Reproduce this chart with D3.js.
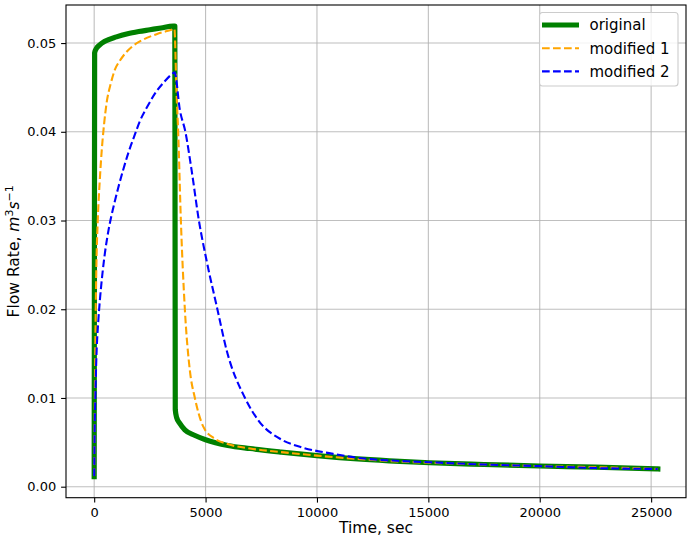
<!DOCTYPE html>
<html>
<head>
<meta charset="utf-8">
<script src="https://cdn.jsdelivr.net/npm/d3@7"></script>
<style>
  body { margin: 0; background: #fff; }
  svg { display: block; font-family: "DejaVu Sans", sans-serif; }
</style>
</head>
<body>
<svg id="chart" width="693" height="539"></svg>
<script>
// original run
var originalTime = [0, 20, 100, 250, 480, 1000, 1500, 2000, 2500, 3000, 3545, 3620,
  3640, 3700, 3850, 4070, 4500, 5000, 6000, 7000, 8400, 10000, 12000, 13720, 15065,
  17500, 20000, 22500, 25300];
var originalFlow = [0.00113, 0.0489, 0.0494, 0.0498, 0.0502, 0.0507, 0.05105, 0.0513, 0.0515, 0.0517, 0.0519, 0.0519,
  0.0087, 0.0078, 0.0071, 0.0064, 0.0058, 0.0053, 0.00465, 0.0043, 0.0039, 0.0035, 0.0031, 0.00285, 0.0027,
  0.0025, 0.00233, 0.0022, 0.0020];

// modified 1
var mod1Time = [0, 30, 60, 100, 160, 250, 330, 450, 555, 750, 930, 1150, 1380, 1700, 2130, 2800, 3470, 3600,
  3697, 3770, 3891, 4070, 4295, 4520, 4892, 5417, 6000, 7000, 8400, 10000, 12000, 13720, 15065,
  17500, 20000, 22500, 25300];
var mod1Flow = [0.0012, 0.010, 0.018, 0.025, 0.0300, 0.0345, 0.0376, 0.0410, 0.0432, 0.0455, 0.0470, 0.0480, 0.0488, 0.0496, 0.0503, 0.0510, 0.0515, 0.0516,
  0.0443, 0.0400, 0.0300, 0.0200, 0.0131, 0.0100, 0.0068, 0.0054, 0.0048, 0.0043, 0.0039, 0.0035, 0.0031, 0.00283, 0.0027,
  0.0025, 0.00232, 0.0022, 0.0020];

// modified 2
var mod2Time = [0, 20, 50, 105, 180, 255, 370, 480, 650, 780, 930, 1080, 1300, 1530, 1800, 2050, 2400, 2725, 3100, 3545, 3610,
  3847, 4093, 4371, 4700, 5045, 5530, 5943, 6770, 7361, 8411, 9235, 10730, 12000, 13720, 15065,
  17500, 20000, 22500, 25300];
var mod2Flow = [0.0012, 0.0060, 0.0100, 0.0150, 0.0185, 0.0210, 0.0240, 0.0263, 0.0290, 0.0306, 0.0322, 0.0337, 0.0357, 0.0376, 0.0395, 0.0412, 0.0429, 0.0443, 0.0455, 0.0466, 0.0467,
  0.04245, 0.0400, 0.0357, 0.0300, 0.0255, 0.0200, 0.0154, 0.0100, 0.0075, 0.0053, 0.0045, 0.0037, 0.0032, 0.0029, 0.00275,
  0.0025, 0.00232, 0.0021, 0.0020];

var xTicks = [0, 5000, 10000, 15000, 20000, 25000];
var yTicks = [0.00, 0.01, 0.02, 0.03, 0.04, 0.05];

var seriesNames = ['original', 'modified 1', 'modified 2'];
var seriesColors = ['green', 'orange', 'blue'];

var margin = {top: 5, right: 7, bottom: 41.3, left: 66};
var width = 693 - margin.left - margin.right;
var height = 539 - margin.top - margin.bottom;

var svg = d3.select('#chart');
var g = svg.append('g').attr('transform', 'translate(' + margin.left + ',' + margin.top + ')');

var x = d3.scaleLinear().domain([-1265, 26565]).range([0, width]);
var y = d3.scaleLinear().domain([-0.00124, 0.05429]).range([height, 0]);

// Grid
g.append('g')
  .selectAll('line')
  .data(xTicks)
  .enter().append('line')
  .attr('x1', function(d) { return x(d) }).attr('x2', function(d) { return x(d) })
  .attr('y1', 0).attr('y2', height)
  .attr('stroke', '#b0b0b0').attr('stroke-width', 1.1).attr('opacity', 0.8);

g.append('g')
  .selectAll('line')
  .data(yTicks)
  .enter().append('line')
  .attr('y1', function(d) { return y(d) }).attr('y2', function(d) { return y(d) })
  .attr('x1', 0).attr('x2', width)
  .attr('stroke', '#b0b0b0').attr('stroke-width', 1.1).attr('opacity', 0.8);

// Data lines
var series = [
  {time: originalTime, flow: originalFlow, color: 'green', width: 5.2, dash: null},
  {time: mod1Time, flow: mod1Flow, color: 'orange', width: 2.1, dash: '7.7 3.3'},
  {time: mod2Time, flow: mod2Flow, color: 'blue', width: 2.1, dash: '7.7 3.3'}
];

var line = d3.line()
  .x(function(d) { return x(d[0]) })
  .y(function(d) { return y(d[1]) })
  .curve(d3.curveMonotoneX);

series.forEach(function(s) {
  var pts = s.time.map(function(t, i) { return [t, s.flow[i]] });
  g.append('path')
    .datum(pts)
    .attr('fill', 'none')
    .attr('stroke', s.color)
    .attr('stroke-width', s.width)
    .attr('stroke-linejoin', 'round')
    .attr('stroke-linecap', s.dash ? 'butt' : 'square')
    .attr('stroke-dasharray', s.dash)
    .attr('d', line);
});

// Axes
var xAxis = g.append('g')
  .attr('transform', 'translate(0,' + height + ')')
  .call(d3.axisBottom(x).tickValues(xTicks).tickFormat(d3.format('d')).tickSize(4.9).tickPadding(4.9));

var yAxis = g.append('g')
  .call(d3.axisLeft(y).tickValues(yTicks).tickFormat(d3.format('.2f')).tickSize(4.9).tickPadding(4.9));

[xAxis, yAxis].forEach(function(a) {
  a.select('.domain').remove();
  a.selectAll('text').attr('font-size', 13).attr('fill', '#000').attr('font-family', '"DejaVu Sans", sans-serif');
  a.selectAll('line').attr('stroke', '#000').attr('stroke-width', 1.1);
});

// Frame
g.append('rect')
  .attr('x', 0).attr('y', 0).attr('width', width).attr('height', height)
  .attr('fill', 'none').attr('stroke', '#000').attr('stroke-width', 1.1);

// Axis labels
svg.append('text')
  .attr('x', margin.left + width / 2)
  .attr('y', 533)
  .attr('text-anchor', 'middle')
  .attr('font-size', 15.5)
  .text('Time, sec');

var yl = svg.append('text')
  .attr('transform', 'translate(19,' + (margin.top + height / 2) + ') rotate(-90)')
  .attr('text-anchor', 'middle')
  .attr('font-size', 15.5);
yl.append('tspan').text('Flow Rate, ');
yl.append('tspan').attr('font-style', 'italic').text('m');
yl.append('tspan').attr('font-size', 11).attr('dy', -6).text('3');
yl.append('tspan').attr('font-style', 'italic').attr('dy', 6).text('s');
yl.append('tspan').attr('font-size', 11).attr('dy', -6).text('\u22121');

// Legend
var legend = svg.append('g').attr('transform', 'translate(539.5,12.5)');
legend.append('rect')
  .attr('width', 138.5).attr('height', 73.5)
  .attr('rx', 3).attr('ry', 3)
  .attr('fill', 'rgba(255,255,255,0.8)')
  .attr('stroke', '#cccccc').attr('stroke-width', 1.1);

seriesNames.forEach(function(name, i) {
  var row = legend.append('g').attr('transform', 'translate(0,' + (12.5 + i * 23.2) + ')');
  row.append('line')
    .attr('x1', 2.5).attr('x2', 39.5)
    .attr('y1', 0).attr('y2', 0)
    .attr('stroke', seriesColors[i])
    .attr('stroke-width', series[i].width)
    .attr('stroke-dasharray', series[i].dash);
  row.append('text')
    .attr('x', 50).attr('y', 5.3)
    .attr('font-size', 15)
    .text(name);
});
</script>
</body>
</html>
